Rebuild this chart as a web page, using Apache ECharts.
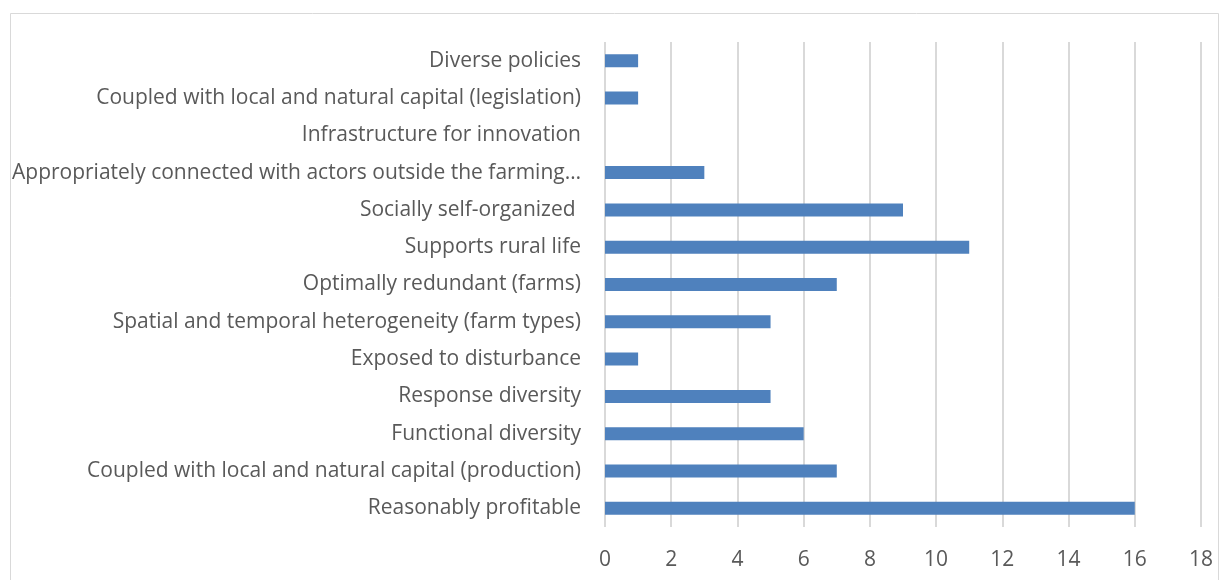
<!DOCTYPE html>
<html><head><meta charset="utf-8">
<script src="https://cdn.jsdelivr.net/npm/echarts@6/dist/echarts.min.js"></script>
<style>html,body{margin:0;padding:0;background:#fff}#c{width:1229px;height:580px}</style>
</head><body><div id="c"></div>
<script>
var categories = [
  "Reasonably profitable",
  "Coupled with local and natural capital (production)",
  "Functional diversity",
  "Response diversity",
  "Exposed to disturbance",
  "Spatial and temporal heterogeneity (farm types)",
  "Optimally redundant (farms)",
  "Supports rural life",
  "Socially self-organized ",
  "Appropriately connected with actors outside the farming…",
  "Infrastructure for innovation",
  "Coupled with local and natural capital (legislation)",
  "Diverse policies"
];
var values = [16, 7, 6, 5, 1, 5, 7, 11, 9, 3, 0, 1, 1];
var xTicks = [0, 2, 4, 6, 8, 10, 12, 14, 16, 18];

var chart = echarts.init(document.getElementById('c'), null, {renderer: 'canvas'});
var font = '"Open Sans", sans-serif';
chart.setOption({
  animation: false,
  backgroundColor: '#ffffff',
  graphic: [{
    type: 'rect', shape: {x: 10.5, y: 13.5, width: 1208, height: 580},
    style: {fill: 'none', stroke: '#d9d9d9', lineWidth: 1}
  }],
  grid: {left: 605, right: 28, top: 42, bottom: 53, containLabel: false},
  xAxis: {
    type: 'value', min: xTicks[0], max: xTicks[xTicks.length - 1], interval: 2,
    axisLine: {show: false}, axisTick: {show: false},
    axisLabel: {color: '#595959', fontSize: 21, fontFamily: font, margin: 23},
    splitLine: {show: true, lineStyle: {color: '#d9d9d9', width: 2}}
  },
  yAxis: {
    type: 'category', data: categories,
    axisLine: {show: false}, axisTick: {show: false},
    axisLabel: {color: '#595959', fontSize: 21, fontFamily: font, margin: 24, padding: [5, 0, 0, 0]}
  },
  series: [{
    type: 'bar', data: values, barWidth: 13,
    itemStyle: {color: '#4f81bd'}
  }]
});
</script></body></html>
